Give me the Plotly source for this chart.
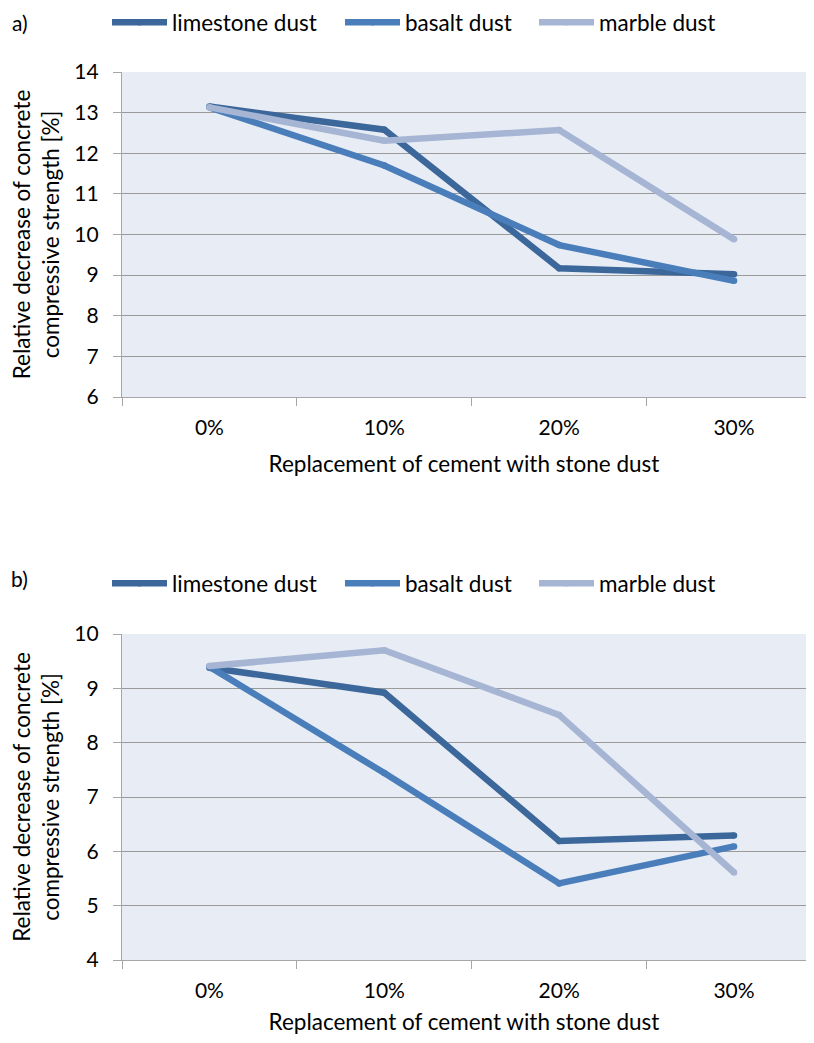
import plotly.graph_objects as go

categories = ["0%", "10%", "20%", "30%"]
series_names = ["limestone dust", "basalt dust", "marble dust"]

# Chart a)
a_limestone = [13.15, 12.58, 9.17, 9.02]
a_basalt = [13.13, 11.70, 9.74, 8.86]
a_marble = [13.13, 12.31, 12.57, 9.88]

# Chart b)
b_limestone = [9.38, 8.92, 6.19, 6.29]
b_basalt = [9.40, 7.44, 5.41, 6.09]
b_marble = [9.41, 9.70, 8.51, 5.61]

colors = ["#3C679A", "#4A7EBB", "#A5B5D3"]
OFF = 8  # page body margin
W, H = 814 - 2 * OFF, 1043 - 2 * OFF
FONT = "Lato"
TICK = 21
TXT = 22.5

def px(s):
    return (s - OFF) / W

def py(s):
    return 1 - (s - OFF) / H

legend_x = [107, 340, 534]  # screen x of each legend entry

fig = go.Figure()
leg_names_a = ["legend", "legend2", "legend3"]
leg_names_b = ["legend4", "legend5", "legend6"]

for name, vals, col, lg in zip(series_names, [a_limestone, a_basalt, a_marble], colors, leg_names_a):
    fig.add_trace(go.Scatter(x=categories, y=vals, name=name, mode="lines+markers",
                             line=dict(color=col, width=6.5), marker=dict(color=col, size=6.5),
                             xaxis="x", yaxis="y", legend=lg, showlegend=True))
for name, vals, col, lg in zip(series_names, [b_limestone, b_basalt, b_marble], colors, leg_names_b):
    fig.add_trace(go.Scatter(x=categories, y=vals, name=name, mode="lines+markers",
                             line=dict(color=col, width=6.5), marker=dict(color=col, size=6.5),
                             xaxis="x2", yaxis="y2", legend=lg, showlegend=True))

x_dom = [px(122), 1.0]
# category centres at screen 210..734 -> 174.7 px per category
right = (W + OFF - 210) / 174.7
grid = "#9A9A9A"
axis_common = dict(showline=True, linecolor="#A6A6A6", linewidth=1.3,
                   ticks="outside", ticklen=8, tickcolor="#A6A6A6", automargin=False,
                   tickfont=dict(family=FONT, size=TICK, color="#000"))

xcommon = dict(axis_common, type="category", tickson="boundaries", showgrid=False,
               range=[-0.5, right], zeroline=False, ticklabelstandoff=12,
               title=dict(text="Replacement of cement with stone dust",
                          font=dict(family=FONT, size=TXT, color="#000"), standoff=17))
ycommon = dict(axis_common, dtick=1, showgrid=True, gridcolor=grid, gridwidth=1.4,
               zeroline=False, ticklabelstandoff=10,
               title=dict(text="Relative decrease of concrete<br>compressive strength [%]",
                          font=dict(family=FONT, size=TXT, color="#000"), standoff=8))

leg = dict(orientation="h", xanchor="left", yanchor="top",
           font=dict(family=FONT, size=TXT, color="#000"), bgcolor="rgba(0,0,0,0)",
           itemwidth=55, tracegroupgap=0)

layout_legends = {}
for lg, lx in zip(leg_names_a, legend_x):
    layout_legends[lg] = dict(leg, x=px(lx), y=py(1))
for lg, lx in zip(leg_names_b, legend_x):
    layout_legends[lg] = dict(leg, x=px(lx), y=py(562))

fig.update_layout(
    width=W, height=H,
    showlegend=True,
    margin=dict(l=0, r=0, t=0, b=0, autoexpand=False),
    paper_bgcolor="white", plot_bgcolor="#E8ECF4",
    xaxis=dict(xcommon, domain=x_dom, anchor="y"),
    yaxis=dict(ycommon, domain=[py(397), py(72)], range=[6, 14], anchor="x"),
    xaxis2=dict(xcommon, domain=x_dom, anchor="y2"),
    yaxis2=dict(ycommon, domain=[py(960), py(634)], range=[4, 10], anchor="x2"),
    annotations=[
        dict(text="a)", x=px(10), y=py(8), xref="paper", yref="paper", showarrow=False,
             xanchor="left", yanchor="top", font=dict(family=FONT, size=21, color="#000")),
        dict(text="b)", x=px(9), y=py(578), xref="paper", yref="paper", showarrow=False,
             xanchor="left", yanchor="middle", font=dict(family=FONT, size=21, color="#000")),
    ],
    **layout_legends,
)

fig.write_html("out.html")
